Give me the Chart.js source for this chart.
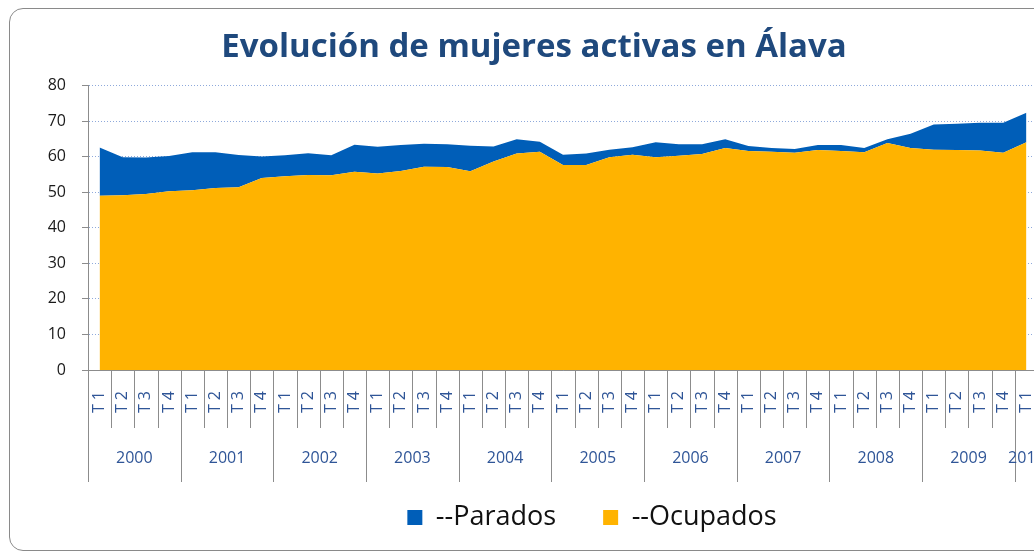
<!DOCTYPE html>
<html>
<head>
<meta charset="utf-8">
<script src="https://cdn.jsdelivr.net/npm/chart.js@4"></script>
<style>
  html, body { margin:0; padding:0; background:#fff; overflow:hidden; width:1034px; height:553px; }
  #frame { position:absolute; left:9px; top:8px; width:1200px; height:541px; border:1px solid #8a8a8a; border-radius:14px; }
  #c { position:absolute; left:0; top:0; }
</style>
</head>
<body>
<div id="frame"></div>
<canvas id="c" width="1040" height="553"></canvas>
<script>
const years = ['2000','2001','2002','2003','2004','2005','2006','2007','2008','2009','2010'];
const quarterNames = ['T 1','T 2','T 3','T 4'];
const categories = [];
years.forEach((y) => {
  const n = (y === '2010') ? 1 : 4;
  for (let q = 0; q < n; q++) categories.push(quarterNames[q]);
});
const ocupados = [49.0,49.2,49.5,50.3,50.6,51.2,51.4,54.0,54.5,54.9,54.8,55.8,55.3,56.0,57.2,57.1,55.9,58.7,60.9,61.4,57.7,57.7,59.9,60.6,59.9,60.3,60.8,62.5,61.6,61.4,61.1,61.9,61.6,61.3,63.9,62.5,62.0,61.9,61.8,61.1,64.1];
const parados  = [13.6,10.7,10.3,9.9,10.7,10.1,9.1,6.1,5.9,6.1,5.6,7.6,7.5,7.3,6.5,6.4,7.2,4.2,4.0,2.8,2.9,3.2,2.1,2.1,4.2,3.2,2.7,2.4,1.4,1.1,1.1,1.4,1.7,1.2,1.0,4.0,7.1,7.4,7.8,8.5,8.3];
const yTicks = [0,10,20,30,40,50,60,70,80];

const FONT = 'Open Sans';

const groupAxisPlugin = {
  id: 'groupAxis',
  afterLayout(chart) {
    if (chart.legend) { chart.legend.left += 73; chart.legend.right += 73; }
    if (chart.titleBlock) { chart.titleBlock.left += 15; chart.titleBlock.right += 15; }
  },
  afterDraw(chart) {
    const x = chart.scales.x;
    const ctx = chart.ctx;
    const w = x.getPixelForValue(1) - x.getPixelForValue(0);
    const axisY = x.top;
    ctx.save();
    ctx.strokeStyle = '#8c8c8c';
    ctx.lineWidth = 1;
    for (let i = 0; i <= categories.length; i++) {
      const bx = Math.round(x.getPixelForValue(i) - w / 2) + 0.5;
      const long = (i % 4 === 0);
      ctx.beginPath();
      ctx.moveTo(bx, axisY);
      ctx.lineTo(bx, long ? 482 : 428);
      ctx.stroke();
    }
    ctx.fillStyle = '#2F5597';
    ctx.font = '16px "' + FONT + '"';
    ctx.textAlign = 'center';
    ctx.textBaseline = 'middle';
    years.forEach((y, yi) => {
      const start = yi * 4;
      const n = (y === '2010') ? 1 : 4;
      const cx = (x.getPixelForValue(start) + x.getPixelForValue(start + n - 1)) / 2;
      ctx.fillText(y, cx, 458);
    });
    ctx.restore();
  }
};

new Chart(document.getElementById('c'), {
  type: 'line',
  data: {
    labels: categories,
    datasets: [
      { label: '--Ocupados', data: ocupados, backgroundColor: '#FFB300', borderColor: '#FFB300', borderWidth: 0, fill: 'origin', pointRadius: 0, tension: 0 },
      { label: '--Parados', data: parados, backgroundColor: '#005EB8', borderColor: '#005EB8', borderWidth: 0, fill: '-1', pointRadius: 0, tension: 0 }
    ]
  },
  options: {
    responsive: false,
    animation: false,
    devicePixelRatio: 1,
    layout: { autoPadding: false, padding: { left: 0, right: 2, top: 0, bottom: 12 } },
    plugins: {
      title: {
        display: true,
        text: 'Evolución de mujeres activas en Álava',
        color: '#1F497D',
        font: { family: FONT, size: 33, weight: 'bold' },
        padding: { top: 28.2, bottom: 17.9 }
      },
      legend: {
        position: 'bottom',
        reverse: true,
        labels: {
          boxWidth: 15, boxHeight: 15, padding: 47,
          color: '#111',
          font: { family: FONT, size: 27 }
        }
      },
      tooltip: { enabled: false }
    },
    scales: {
      x: {
        offset: true,
        grid: { display: false, drawTicks: false },
        border: { display: true, color: '#8c8c8c', width: 1 },
        ticks: { autoSkip: false, maxRotation: 90, minRotation: 90, padding: 21, color: '#2F5597', font: { family: FONT, size: 16 } },
        afterFit(s) { s.height = 87; s.paddingLeft = 0; s.paddingRight = 0; }
      },
      y: {
        stacked: true,
        min: 0, max: 80,
        afterBuildTicks(s) { s.ticks = yTicks.map(v => ({ value: v })); },
        grid: { color: '#8EA9DB', lineWidth: 1, drawTicks: true, tickLength: 6, tickColor: '#8c8c8c', tickBorderDash: [] },
        border: { display: true, color: '#8c8c8c', width: 1, dash: [1, 2] },
        ticks: { padding: 16, color: '#1a1a1a', font: { family: FONT, size: 16 } },
        afterFit(s) { s.width = 88; s.paddingTop = 0; s.paddingBottom = 0; }
      }
    }
  },
  plugins: [groupAxisPlugin]
});
</script>
</body>
</html>
